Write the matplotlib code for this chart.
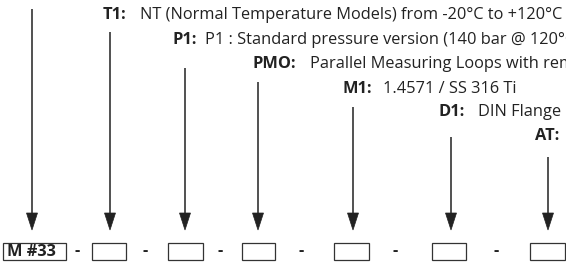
import matplotlib
matplotlib.use("Agg")
import matplotlib.pyplot as plt
from matplotlib.patches import Rectangle, Polygon

# --- content ---
codes = ["T1:", "P1:", "PMO:", "M1:", "D1:", "AT:"]
descriptions = [
    "NT (Normal Temperature Models) from -20°C to +120°C",
    "P1 : Standard pressure version (140 bar @ 120°C)",
    "Parallel Measuring Loops with remote electronics",
    "1.4571 / SS 316 Ti",
    "DIN Flange",
    "",
]
first_box_text = "M #33"

# --- layout (pixel coords) ---
W, H = 566, 270
code_x = [103, 173, 252, 343, 438, 535]
desc_x = [140, 205, 310, 383, 478, 575]
row_y = [15, 40, 64, 89, 112, 136]

arrow_x = [32, 110, 185, 258, 353, 451, 548]
arrow_top = [9, 32, 68, 82, 107, 137, 157]
head_top, head_tip, head_half = 213, 230, 5.5

box_x0 = [3, 92, 168, 242, 334, 432, 530]
box_x1 = [66, 126, 203, 275, 369, 466, 565]
box_y0, box_y1 = 243, 260
dash_x = [77, 145, 220, 301, 395, 496]

col = "#222222"
font = ["Open Sans", "DejaVu Sans"]

fig = plt.figure(figsize=(W / 100, H / 100), dpi=100)
ax = fig.add_axes([0, 0, 1, 1])
ax.set_xlim(0, W)
ax.set_ylim(H, 0)
ax.axis("off")

fs = 11.8

for cx, dx, y, c, d in zip(code_x, desc_x, row_y, codes, descriptions):
    ax.text(cx, y, c, fontsize=fs, fontweight="bold", color=col,
            family=font, va="center", ha="left")
    if d:
        ax.text(dx, y, d, fontsize=fs, color=col, family=font,
                va="center", ha="left", clip_on=True)

for x, top in zip(arrow_x, arrow_top):
    ax.plot([x, x], [top, head_top + 2], color=col, lw=1.1, solid_capstyle="butt")
    ax.add_patch(Polygon([[x - head_half, head_top], [x + head_half, head_top],
                          [x, head_tip]], closed=True, facecolor=col,
                         edgecolor=col, lw=0.5))

for x0, x1 in zip(box_x0, box_x1):
    ax.add_patch(Rectangle((x0, box_y0), x1 - x0, box_y1 - box_y0,
                           facecolor="white", edgecolor="#333333", lw=0.9))

ax.text(7, (box_y0 + box_y1) / 2 + 0.5, first_box_text, fontsize=fs,
        fontweight="bold", color=col, family=font, va="center", ha="left")

for x in dash_x:
    ax.text(x, (box_y0 + box_y1) / 2, "-", fontsize=fs, fontweight="bold",
            color=col, family=font, va="center", ha="center")

fig.savefig("out.png", dpi=100)
